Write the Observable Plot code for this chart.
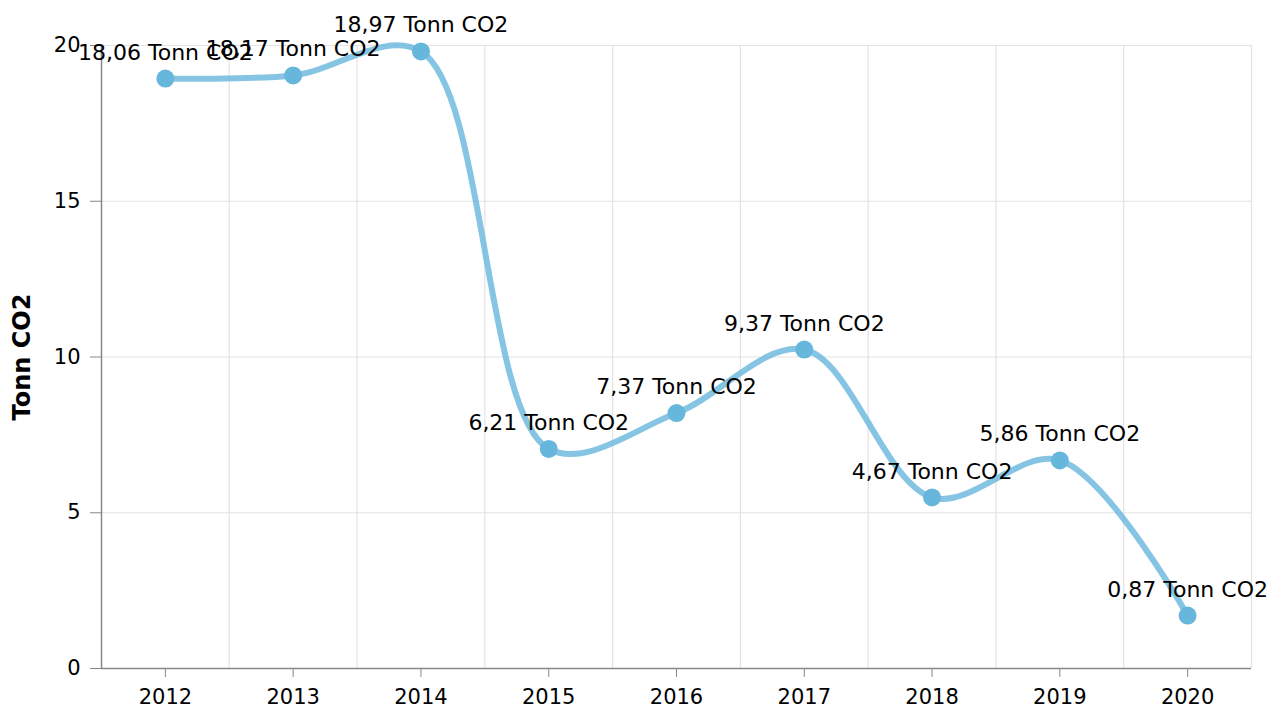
<!DOCTYPE html>
<html>
<head>
<meta charset="utf-8">
<script src="https://cdn.jsdelivr.net/npm/d3@7"></script>
<script src="https://cdn.jsdelivr.net/npm/@observablehq/plot@0.6"></script>
<style>
  html, body { margin: 0; padding: 0; background: #fff; }
  #chart svg { display: block; }
</style>
</head>
<body>
<div id="chart"></div>
<script>
// Years (categories)
const years = [2012, 2013, 2014, 2015, 2016, 2017, 2018, 2019, 2020];
// Plotted values (as read from the point positions)
const values = [18.94, 19.04, 19.81, 7.05, 8.20, 10.24, 5.49, 6.68, 1.70];
// Label values shown next to each point
const labelValues = ["18,06", "18,17", "18,97", "6,21", "7,37", "9,37", "4,67", "5,86", "0,87"];
const unit = "Tonn CO2";
const yTicks = [0, 5, 10, 15, 20];
const gridX = [2011.5, 2012.5, 2013.5, 2014.5, 2015.5, 2016.5, 2017.5, 2018.5, 2019.5, 2020.5];

const data = years.map((y, i) => ({year: y, value: values[i], label: labelValues[i] + " " + unit}));

const font = "DejaVu Sans, Verdana, sans-serif";
const chart = Plot.plot({
  width: 1285,
  height: 715,
  marginLeft: 101,
  marginRight: 34,
  marginTop: 45,
  marginBottom: 47,
  style: {fontFamily: font, fontSize: "21px", color: "#000", background: "#fff", overflow: "visible"},
  x: {domain: [2011.5, 2020.5], label: null},
  y: {domain: [0, 20], label: null},
  marks: [
    Plot.ruleY(yTicks.slice(1), {stroke: "#e3e3e3", strokeWidth: 1.2}),
    Plot.ruleX(gridX.slice(1), {stroke: "#e3e3e3", strokeWidth: 1.2}),
    Plot.axisX(years, {tickFormat: d => String(d), tickSize: 9, tickPadding: 12, stroke: "#888", fill: "#000", fontSize: 21, fontFamily: font}),
    Plot.axisY(yTicks, {tickSize: 11, tickPadding: 10, stroke: "#888", fill: "#000", fontSize: 21, fontFamily: font, label: null}),
    Plot.ruleX([2011.5], {stroke: "#888", strokeWidth: 1.5}),
    Plot.ruleY([0], {x1: 2011.5, x2: 2020.5, stroke: "#888", strokeWidth: 1.5}),
    Plot.text([unit], {frameAnchor: "left", textAnchor: "middle", dx: -79, rotate: -90, fontWeight: "bold", fontSize: 24, fontFamily: font, fill: "#000"}),
    Plot.line(data, {x: "year", y: "value", curve: "catmull-rom", stroke: "#67b7dc", strokeOpacity: 0.8, strokeWidth: 6}),
    Plot.dot(data, {x: "year", y: "value", r: 9, fill: "#67b7dc", stroke: "none"}),
    Plot.text(data, {x: "year", y: "value", text: "label", dy: -26, fontSize: 22, fontFamily: font, fill: "#000"})
  ]
});
document.getElementById("chart").appendChild(chart);
</script>
</body>
</html>
